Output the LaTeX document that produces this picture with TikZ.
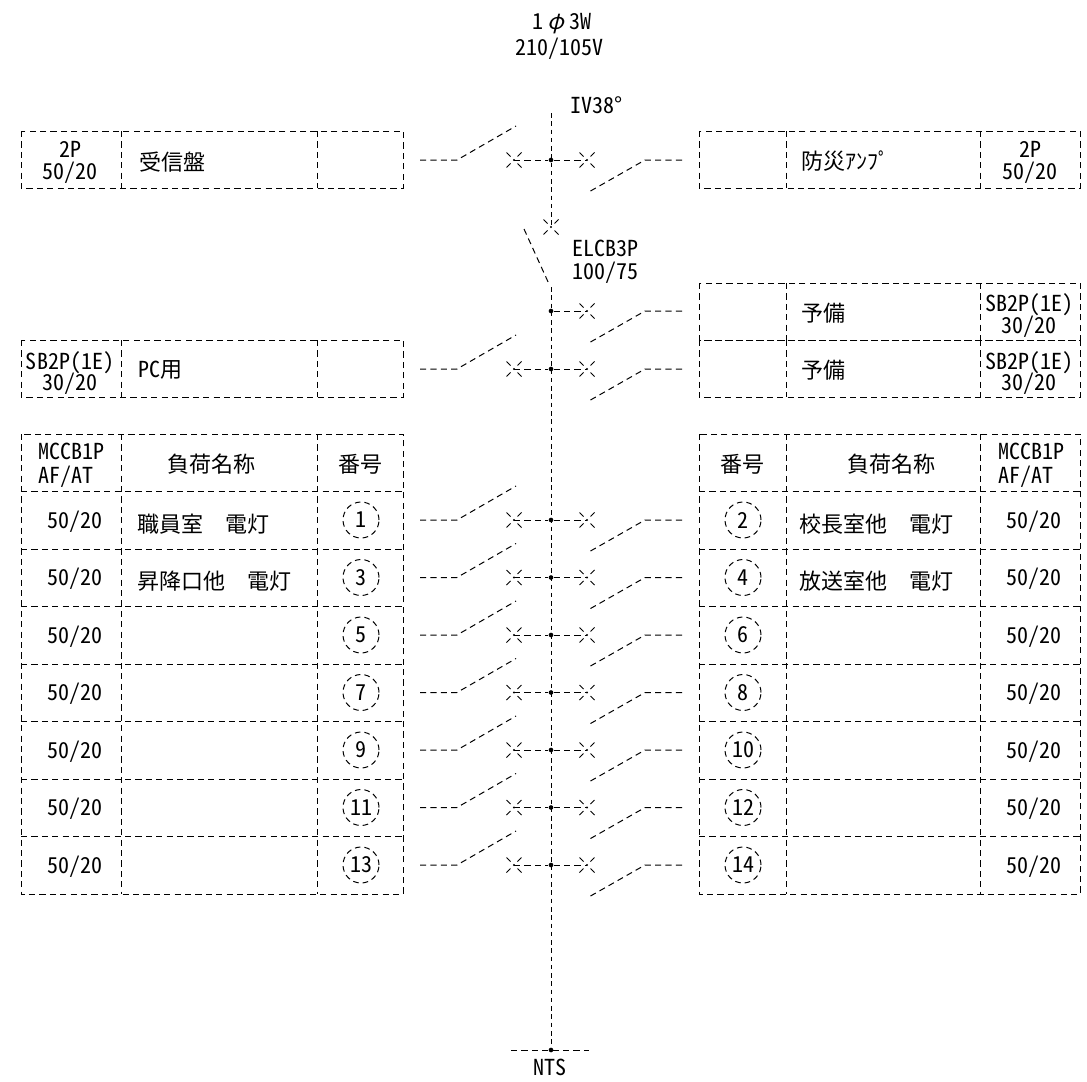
\documentclass[tikz,border=0pt]{standalone}
\usepackage{fontspec}
\setmainfont[RawFeature=+hwid]{Noto Sans CJK JP}
\newfontfamily\slantf[FakeSlant=0.25]{Noto Sans CJK JP}
\newcommand{\zs}{\hspace{16.5pt}}
\tikzset{
  x=0.75pt,y=-0.75pt,
  wire/.style={line width=0.75pt,dash pattern=on 4.6pt off 3.2pt},
  bus/.style={line width=0.75pt,dash pattern=on 3.4pt off 2.8pt},
  txt/.style={font=\fontsize{16.5pt}{18pt}\selectfont,inner sep=0pt,align=center},
  ring/.style={circle,draw,line width=0.75pt,dash pattern=on 4.2pt off 3pt,minimum size=27pt,inner sep=0pt,txt},
  dot/.style={circle,fill,inner sep=0pt,minimum size=3.5pt},
}
\newcommand{\crossmark}[1]{%
  \draw[line width=0.75pt] (#1)+(-7.5,-7.5) -- +(-3.5,-3.5) (#1)+(7.5,-7.5) -- +(3.5,-3.5)
    (#1)+(-7.5,7.5) -- +(-3.5,3.5) (#1)+(7.5,7.5) -- +(3.5,3.5);
  \fill (#1) circle[radius=1.2];}
\newcommand{\leftsw}[2]{%
  \coordinate (#1la) at (420,#2); \coordinate (#1lb) at (457,#2);
  \coordinate (#1lc) at (516,#2-34); \coordinate (#1lx) at (514,#2);
  \draw[wire] (#1la) -- (#1lb) -- (#1lc);
  \crossmark{#1lx}
  \draw[wire] (#1lx) -- (#1j);}
\newcommand{\rightsw}[2]{%
  \coordinate (#1ra) at (682,#2); \coordinate (#1rb) at (645,#2);
  \coordinate (#1rc) at (587,#2+33); \coordinate (#1rx) at (587,#2);
  \draw[wire] (#1ra) -- (#1rb) -- (#1rc);
  \crossmark{#1rx}
  \draw[wire] (#1j) -- (#1rx);}
\newcommand{\junc}[2]{\node[dot] (#1j) at (551,#2) {};}
\newcommand{\lbox}[2]{\draw[wire] (21,#1) rectangle (403,#2) (121,#1) -- (121,#2) (317,#1) -- (317,#2);}
\newcommand{\rbox}[2]{\draw[wire] (699,#1) rectangle (1080,#2) (786,#1) -- (786,#2) (980,#1) -- (980,#2);}
\begin{document}
\begin{tikzpicture}
\useasboundingbox (0,0) rectangle (1087,1081);
\node[txt] (phase) at (562,24) {1\hspace{3pt}{\slantf φ}\hspace{4pt}3W};
\node[txt] (volt) at (559.5,49) {210/105V};
\node[txt,anchor=west] (iv) at (570,105) {IV38°};
\node[txt,anchor=west] (elcb) at (572,248) {ELCB3P};
\node[txt,anchor=west] (elcbr) at (572,273) {100/75};
\node[txt] (nts) at (550,1067) {NTS};
\coordinate (bustop) at (551,113);
\coordinate (star) at (551,227);
\coordinate (elcba) at (524,229);
\coordinate (elcbb) at (549,284);
\coordinate (elcbc) at (551,287);
\coordinate (neutl) at (511,1050);
\coordinate (neutr) at (589,1050);
\node[dot] (neutj) at (551,1050) {};
\draw[bus] (bustop) -- (star);
\crossmark{star}
\draw[wire] (elcba) -- (elcbb);
\draw[bus] (elcbc) -- (neutj);
\draw[wire] (neutl) -- (neutr);
\junc{a}{160}\leftsw{a}{160}\rightsw{a}{160}
\junc{b}{311}\rightsw{b}{311}
\junc{c}{369}\leftsw{c}{369}\rightsw{c}{369}
\lbox{131}{188}
\node[txt] (t1a) at (70,162.5) {2P\\[-1.5pt]50/20};
\node[txt,anchor=west] (t1b) at (139,162) {受信盤};
\rbox{131}{188}
\node[txt,anchor=west] (t2b) at (801,161) {防災ｱﾝﾌﾟ};
\node[txt] (t2a) at (1030,162.5) {2P\\[-1.5pt]50/20};
\lbox{340}{397}
\node[txt] (t3a) at (70,373) {SB2P(1E)\\[-2pt]30/20};
\node[txt,anchor=west] (t3b) at (138,370) {PC用};
\rbox{283}{340}
\node[txt,anchor=west] (t4b) at (801,313) {予備};
\node[txt] (t4a) at (1029,315.5) {SB2P(1E)\\[-2pt]30/20};
\rbox{340}{397}
\node[txt,anchor=west] (t5b) at (801,370) {予備};
\node[txt] (t5a) at (1029,373) {SB2P(1E)\\[-2pt]30/20};
\lbox{434}{894}
\rbox{434}{894}
\foreach \yy in {491.5,549,606.5,664,721.5,779,836.5}{
  \draw[wire] (21,\yy) -- (403,\yy);
  \draw[wire] (699,\yy) -- (1080,\yy);
}
\node[txt,align=left] (hl1) at (71,465) {MCCB1P\\AF/AT};
\node[txt] (hl2) at (211,464) {負荷名称};
\node[txt] (hl3) at (360,464) {番号};
\node[txt] (hr3) at (742,464) {番号};
\node[txt] (hr2) at (891,464) {負荷名称};
\node[txt,align=left] (hr1) at (1031,465) {MCCB1P\\AF/AT};
\node[txt,anchor=west] (n1) at (137,524) {職員室\zs 電灯};
\node[txt,anchor=west] (n3) at (137,581) {昇降口他\zs 電灯};
\node[txt,anchor=west] (n2) at (799,524) {校長室他\zs 電灯};
\node[txt,anchor=west] (n4) at (799,581) {放送室他\zs 電灯};
\foreach \i/\yy/\odd/\eve in {1/520/1/2,2/577.5/3/4,3/635/5/6,4/692.5/7/8,5/750/9/10,6/807.5/11/12,7/865/13/14}{
  \node[txt] (al\i) at (75,\yy+1.5) {50/20};
  \node[txt] (ar\i) at (1034,\yy+1.5) {50/20};
  \node[ring] (cl\i) at (361,\yy) {\odd};
  \node[ring] (cr\i) at (743,\yy) {\eve};
  \junc{r\i}{\yy}
  \leftsw{r\i}{\yy}
  \rightsw{r\i}{\yy}
}
\end{tikzpicture}
\end{document}
